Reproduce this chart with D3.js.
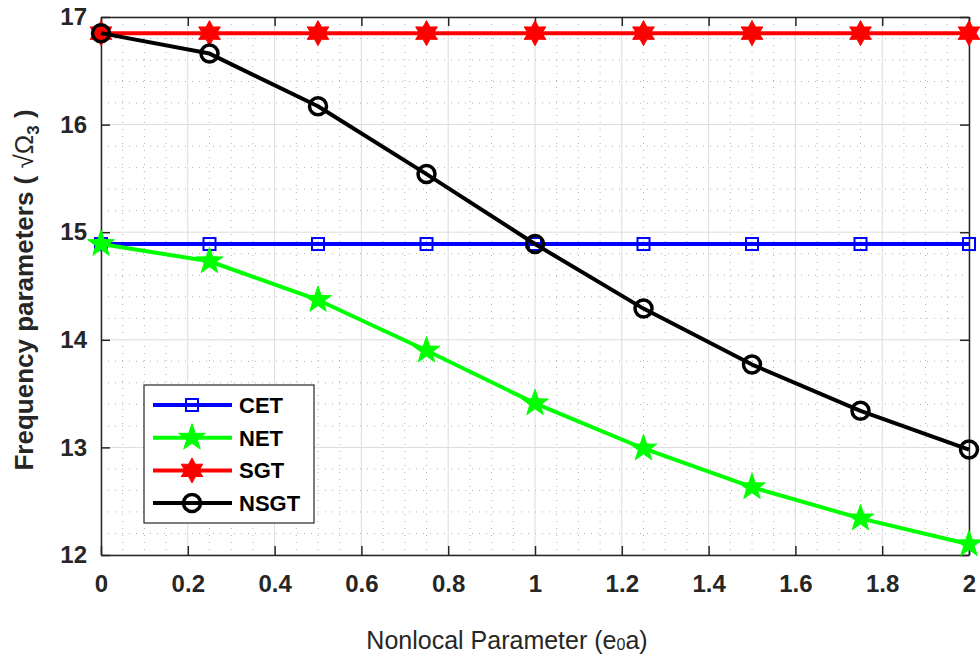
<!DOCTYPE html>
<html><head><meta charset="utf-8">
<script src="https://cdn.jsdelivr.net/npm/d3@7"></script>
<style>body{margin:0;background:#fff}svg{font-family:"Liberation Sans",Arial,sans-serif}</style>
</head><body>
<svg id="c" width="980" height="663"></svg>
<script>
const xVals = [0, 0.25, 0.5, 0.75, 1, 1.25, 1.5, 1.75, 2];
const cet  = [14.89, 14.89, 14.89, 14.89, 14.89, 14.89, 14.89, 14.89, 14.89];
const net  = [14.89, 14.73, 14.37, 13.90, 13.41, 12.99, 12.63, 12.34, 12.10];
const sgt  = [16.85, 16.85, 16.85, 16.85, 16.85, 16.85, 16.85, 16.85, 16.85];
const nsgt = [16.85, 16.66, 16.17, 15.54, 14.89, 14.29, 13.77, 13.34, 12.98];
const xTicks = [0, 0.2, 0.4, 0.6, 0.8, 1, 1.2, 1.4, 1.6, 1.8, 2];
const yTicks = [12, 13, 14, 15, 16, 17];
const seriesNames = ["CET", "NET", "SGT", "NSGT"];
const seriesColors = ["#0000ff", "#00ff00", "#ff0000", "#000000"];

const svg = d3.select("#c");
const L = 101, R = 969, T = 17, B = 555;
const x = d3.scaleLinear().domain([0, 2]).range([L, R]);
const y = d3.scaleLinear().domain([12, 17]).range([B, T]);
const g = svg.append("g");

// minor grid
const xMinor = d3.range(0, 2.0001, 0.05).filter(v => Math.abs(v*5 - Math.round(v*5)) > 1e-6);
const yMinor = d3.range(12, 17.0001, 0.2).filter(v => Math.abs(v - Math.round(v)) > 1e-6);
g.selectAll(".xm").data(xMinor).enter().append("line")
  .attr("x1", d => x(d)).attr("x2", d => x(d)).attr("y1", T).attr("y2", B)
  .attr("stroke", "#b0b0b0").attr("stroke-width", 1).attr("stroke-dasharray", "1,6");
g.selectAll(".ym").data(yMinor).enter().append("line")
  .attr("y1", d => y(d)).attr("y2", d => y(d)).attr("x1", L).attr("x2", R)
  .attr("stroke", "#b0b0b0").attr("stroke-width", 1).attr("stroke-dasharray", "1,6");
// major grid
g.selectAll(".xg").data(xTicks).enter().append("line")
  .attr("x1", d => x(d)).attr("x2", d => x(d)).attr("y1", T).attr("y2", B)
  .attr("stroke", "#dcdcdc").attr("stroke-width", 1);
g.selectAll(".yg").data(yTicks).enter().append("line")
  .attr("y1", d => y(d)).attr("y2", d => y(d)).attr("x1", L).attr("x2", R)
  .attr("stroke", "#dcdcdc").attr("stroke-width", 1);

// axes
const fmt = d => String(+d.toFixed(1));
const xAxis = d3.axisBottom(x).tickValues(xTicks).tickSizeInner(-9).tickSizeOuter(0).tickPadding(20).tickFormat(fmt);
const xAxisT = d3.axisTop(x).tickValues(xTicks).tickSizeInner(-9).tickSizeOuter(0).tickFormat("");
const yAxis = d3.axisLeft(y).tickValues(yTicks).tickSizeInner(-9).tickSizeOuter(0).tickPadding(14).tickFormat(fmt);
const yAxisR = d3.axisRight(y).tickValues(yTicks).tickSizeInner(-9).tickSizeOuter(0).tickFormat("");
function styleAx(sel){
  sel.selectAll("path").attr("stroke", "#262626").attr("stroke-width", 1.5);
  sel.selectAll("line").attr("stroke", "#262626").attr("stroke-width", 1.5);
  sel.selectAll("text").attr("fill", "#262626").style("font-size", "24px").style("font-weight", "bold").style("font-family", '"Liberation Sans",Arial,sans-serif');
}
styleAx(svg.append("g").attr("transform", `translate(0,${B})`).call(xAxis));
styleAx(svg.append("g").attr("transform", `translate(0,${T})`).call(xAxisT));
styleAx(svg.append("g").attr("transform", `translate(${L},0)`).call(yAxis));
styleAx(svg.append("g").attr("transform", `translate(${R},0)`).call(yAxisR));

// markers
function marker(sel, i, cx, cy){
  const c = seriesColors[i];
  if (i === 0) {
    sel.append("rect").attr("x", cx-6).attr("y", cy-6).attr("width", 12).attr("height", 12)
      .attr("fill", "none").attr("stroke", c).attr("stroke-width", 2);
  } else if (i === 1) {
    const p = d3.range(10).map(k => { const r = k%2 ? 5.5 : 14; const a = -Math.PI/2 + k*Math.PI/5; return [cx + r*Math.cos(a), cy + r*Math.sin(a)]; });
    sel.append("polygon").attr("points", p.map(q => q.join(",")).join(" ")).attr("fill", c).attr("stroke", c).attr("stroke-width", 1);
  } else if (i === 2) {
    const p = d3.range(12).map(k => { const r = k%2 ? 7 : 12.5; const a = -Math.PI/2 + k*Math.PI/6; return [cx + r*Math.cos(a), cy + r*Math.sin(a)]; });
    sel.append("polygon").attr("points", p.map(q => q.join(",")).join(" ")).attr("fill", c).attr("stroke", c).attr("stroke-width", 1);
  } else {
    sel.append("circle").attr("cx", cx).attr("cy", cy).attr("r", 8.5).attr("fill", "none").attr("stroke", c).attr("stroke-width", 3.5);
  }
}

const allSeries = [cet, net, sgt, nsgt];
const line = d3.line().x((d, i) => x(xVals[i])).y(d => y(d));
allSeries.forEach((s, i) => {
  const sg = svg.append("g");
  sg.append("path").datum(s).attr("d", line).attr("fill", "none")
    .attr("stroke", seriesColors[i]).attr("stroke-width", 4).attr("stroke-linejoin", "round");
  s.forEach((v, j) => marker(sg, i, x(xVals[j]), y(v)));
});

// legend
const lg = svg.append("g");
lg.append("rect").attr("x", 144).attr("y", 385).attr("width", 170).attr("height", 138)
  .attr("fill", "#fff").attr("stroke", "#262626").attr("stroke-width", 1.2);
seriesNames.forEach((n, i) => {
  const ly = 405 + i * 32.7;
  lg.append("line").attr("x1", 153).attr("x2", 232).attr("y1", ly).attr("y2", ly)
    .attr("stroke", seriesColors[i]).attr("stroke-width", 4);
  marker(lg, i, 192, ly);
  lg.append("text").attr("x", 239).attr("y", ly + 8).text(n)
    .style("font-size", "22px").style("font-weight", "bold").attr("fill", "#000");
});

// axis labels
svg.append("text").attr("x", 507).attr("y", 649).attr("text-anchor", "middle")
  .style("font-size", "25px").attr("fill", "#262626")
  .html('Nonlocal Parameter (e<tspan font-size="16px" dy="1">0</tspan><tspan dy="-1">a)</tspan>');
svg.append("text").attr("transform", "translate(33,290) rotate(-90)").attr("text-anchor", "middle")
  .style("font-size", "26px").style("font-weight", "bold").attr("fill", "#262626")
  .html('Frequency parameters ( <tspan font-weight="normal">√Ω</tspan><tspan font-size="17px" dy="6">3</tspan><tspan dy="-6"> )</tspan>');
</script>
</body></html>
